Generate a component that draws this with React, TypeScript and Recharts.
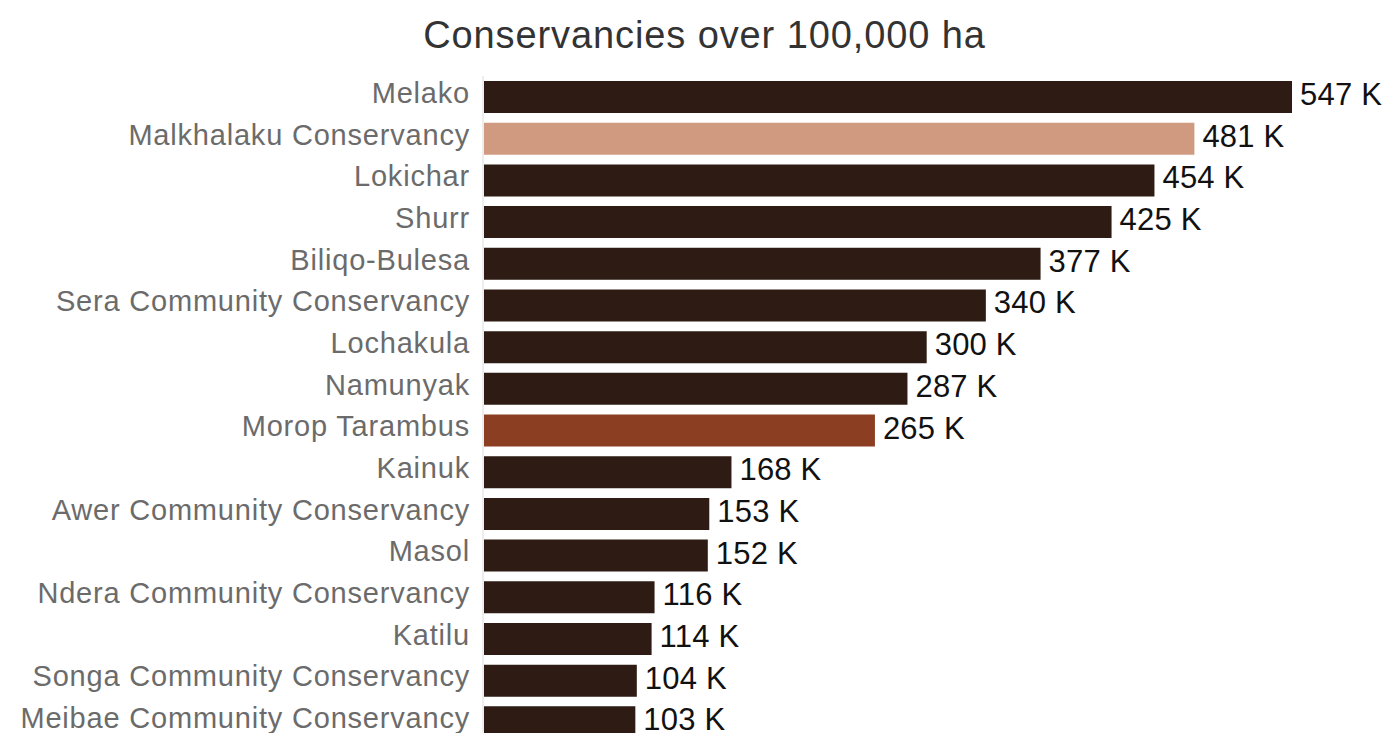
import { Bar, BarChart, Cell, LabelList, XAxis, YAxis } from "recharts";

const NAMES = [
    "Melako",
    "Malkhalaku Conservancy",
    "Lokichar",
    "Shurr",
    "Biliqo-Bulesa",
    "Sera Community Conservancy",
    "Lochakula",
    "Namunyak",
    "Morop Tarambus",
    "Kainuk",
    "Awer Community Conservancy",
    "Masol",
    "Ndera Community Conservancy",
    "Katilu",
    "Songa Community Conservancy",
    "Meibae Community Conservancy",
];

// hectares
const AREAS = [
    547000, 481000, 454000, 425000, 377000, 340000, 300000, 287000,
    265000, 168000, 153000, 152000, 116000, 114000, 104000, 103000,
];

const DARK = "#2e1c14";
const LIGHT = "#d09a80";
const RUST = "#8b3e21";

const BAR_COLORS = [
    DARK, LIGHT, DARK, DARK, DARK, DARK, DARK, DARK,
    RUST, DARK, DARK, DARK, DARK, DARK, DARK, DARK,
];

const data = NAMES.map((name, i) => ({ name, area: AREAS[i], color: BAR_COLORS[i] }));

const FONT = "'Liberation Sans', Arial, Helvetica, sans-serif";

function NameTick({ x, y, payload }: any) {
    return (
        <text
            x={x}
            y={y + 6}
            textAnchor="end"
            fill="#6b6b6b"
            fontSize={29}
            letterSpacing={0.8}
            fontFamily={FONT}
        >
            {payload.value}
        </text>
    );
}

function ValueLabel({ x, y, width, height, value }: any) {
    return (
        <text
            x={x + width + 8}
            y={y + height / 2 + 8}
            fill="#111"
            fontSize={31}
            letterSpacing={0.2}
            fontFamily={FONT}
        >
            {Math.round(value / 1000)} K
        </text>
    );
}

export default function App() {
    return (
        <div
            style={{
                position: "relative",
                width: 1391,
                height: 733,
                overflow: "hidden",
                margin: "-8px 0 0 -8px",
                background: "#fff",
            }}
        >
            <div
                style={{
                    position: "absolute",
                    top: 16,
                    left: 0,
                    width: 1409,
                    textAlign: "center",
                    fontFamily: FONT,
                    fontSize: 38,
                    lineHeight: "38px",
                    letterSpacing: 0.9,
                    color: "#333",
                    whiteSpace: "nowrap",
                }}
            >
                Conservancies over 100,000 ha
            </div>
            <BarChart
                width={1391}
                height={750}
                data={data}
                layout="vertical"
                margin={{ top: 76, right: 99, bottom: 7, left: 0 }}
            >
                <XAxis type="number" dataKey="area" domain={[0, 547000]} hide />
                <YAxis
                    type="category"
                    dataKey="name"
                    width={483}
                    interval={0}
                    tickLine={false}
                    tickSize={0}
                    tickMargin={13}
                    axisLine={{ stroke: "#eeeeee", strokeWidth: 2 }}
                    tick={<NameTick />}
                />
                <Bar dataKey="area" barSize={32} isAnimationActive={false}>
                    {data.map((d) => (
                        <Cell key={d.name} fill={d.color} />
                    ))}
                    <LabelList dataKey="area" content={<ValueLabel />} />
                </Bar>
            </BarChart>
        </div>
    );
}
